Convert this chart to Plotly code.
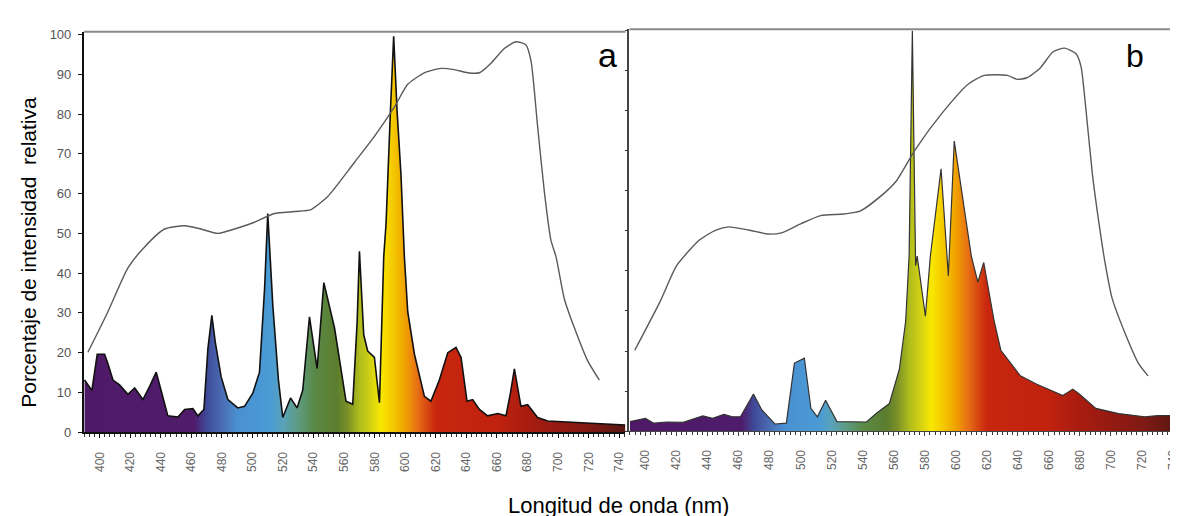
import plotly.graph_objects as go

# ---------------- Data ----------------
# Panel a: lamp emission spectrum
wl_a = [390.1, 394.9, 398.4, 403.2, 405.4, 408.7, 413.0, 418.5, 422.9, 428.3, 432.7, 437.0,
        440.7, 444.6, 451.2, 455.6, 461.0, 464.3, 468.2, 470.8, 473.4, 475.6, 479.5, 483.9,
        490.4, 494.8, 500.2, 504.6, 507.9, 510.0, 513.3, 517.0, 519.8, 524.9, 529.2, 532.9,
        537.3, 542.3, 546.7, 553.7, 561.2, 565.6, 568.5, 570.0, 572.8, 575.4, 579.8, 583.1,
        585.9, 587.4, 590.3, 592.4, 594.6, 597.2, 599.4, 601.6, 606.0, 612.5, 616.8, 622.3,
        627.8, 633.2, 636.5, 640.4, 644.1, 648.5, 653.9, 660.5, 665.9, 668.8, 671.4, 675.7,
        680.1, 686.6, 693.2, 710.6, 732.4, 744.0]
em_a = [13.1, 10.5, 19.6, 19.6, 17.2, 13.1, 11.9, 9.5, 11.1, 8.2, 11.5, 15.1,
        9.8, 4.1, 3.8, 5.7, 5.9, 4.1, 5.7, 20.9, 29.4, 22.8, 13.9, 8.2,
        6.1, 6.5, 9.8, 15.1, 36.0, 55.0, 31.9, 13.1, 3.7, 8.6, 6.1, 10.6,
        29.0, 16.0, 37.6, 26.2, 7.8, 7.0, 27.8, 45.5, 24.5, 20.4, 18.8, 7.4,
        44.2, 52.3, 81.0, 99.6, 81.0, 64.6, 44.2, 30.3, 19.6, 9.0, 7.8, 13.1,
        20.0, 21.3, 18.8, 7.8, 8.2, 5.7, 4.1, 4.7, 4.1, 9.8, 15.9, 6.5,
        6.9, 3.7, 2.8, 2.4, 2.0, 1.8]

# Panel a: absorption curve
wl_abs_a = [392.3, 405.4, 418.5, 429.4, 442.5, 455.6, 466.2, 477.3, 488.3, 501.3, 514.4,
            527.5, 538.4, 549.3, 553.7, 566.8, 579.8, 592.9, 601.6, 612.5, 623.4, 632.1,
            640.8, 648.5, 656.1, 664.8, 672.4, 679.0, 682.3, 686.6, 691.0, 695.3, 698.6,
            704.1, 710.6, 719.3, 727.0]
abs_a = [20.1, 30.3, 41.3, 46.6, 51.1, 51.9, 51.1, 50.0, 51.1, 52.8, 55.0,
         55.5, 56.0, 59.3, 61.3, 67.9, 74.4, 81.8, 87.5, 90.4, 91.5, 91.2,
         90.4, 90.4, 92.8, 96.5, 98.2, 97.4, 93.3, 76.9, 60.5, 48.3, 44.2,
         33.5, 26.3, 18.0, 13.1]

# Panel b: lamp emission spectrum
wl_b = [390.0, 400.0, 405.3, 413.8, 424.3, 432.7, 437.0, 443.3, 450.6, 456.0, 461.2, 469.6,
        475.0, 483.4, 490.8, 496.0, 502.4, 506.6, 510.8, 516.1, 523.4, 542.4, 548.7, 557.2,
        563.6, 567.7, 569.9, 572.0, 574.1, 575.1, 580.4, 583.6, 590.5, 595.2, 599.0, 610.0,
        614.2, 618.0, 624.7, 629.0, 641.6, 652.2, 669.0, 675.4, 679.6, 690.2, 704.9, 721.8,
        730.2, 747.0]
em_b = [2.4, 3.2, 2.0, 2.3, 2.2, 3.2, 3.8, 3.2, 4.2, 3.6, 3.6, 9.3,
        5.3, 1.8, 2.0, 17.0, 18.2, 5.7, 3.6, 7.7, 2.4, 2.3, 4.4, 6.9,
        15.4, 27.5, 43.7, 99.9, 41.3, 43.7, 28.7, 43.7, 65.5, 38.8, 72.4, 43.7,
        37.2, 42.1, 27.5, 20.2, 13.8, 11.7, 8.9, 10.5, 9.3, 5.7, 4.4, 3.6,
        3.9, 3.9]

# Panel b: absorption curve
wl_abs_b = [393.1, 409.5, 420.1, 434.8, 445.4, 453.8, 466.5, 479.1, 487.6, 500.3,
            512.9, 527.7, 538.2, 553.0, 561.4, 574.1, 591.0, 607.9, 618.4, 633.2, 639.5,
            645.8, 654.3, 662.7, 670.1, 677.5, 680.7, 683.9, 688.1, 692.3, 696.5, 700.7,
            709.2, 717.6, 723.9]
abs_b = [20.2, 32.4, 41.3, 47.7, 50.2, 51.0, 50.2, 49.2, 49.5, 51.8,
         53.8, 54.2, 54.9, 59.1, 62.3, 70.4, 79.3, 86.6, 88.8, 88.8, 87.8,
         88.2, 90.6, 94.7, 95.6, 94.2, 91.0, 80.1, 63.9, 51.8, 41.3, 33.2,
         24.3, 17.0, 13.8]

x_ticks = list(range(400, 741, 20))
y_ticks = list(range(0, 101, 10))

# ---------------- Style: wavelength -> colour gradient ----------------
GRAD_START, GRAD_STOP = 389.0, 747.0
stops_nm = [389, 462, 470, 480, 490, 512, 520, 530, 540, 555, 562, 570, 578, 584,
            592, 600, 607, 614, 620, 660, 680, 700, 720, 747]
stops_col = ["#4e1a68", "#4f1c6c", "#3f4a98", "#4a6cb4", "#4a90d0", "#4a9bd6",
             "#5aa2b8", "#5e9a80", "#5a8a48", "#5b7d2e", "#7a9028", "#b0bd1c",
             "#d8d412", "#f8e800", "#f4c800", "#f0a000", "#e87414", "#d84812",
             "#c8260e", "#c0220e", "#a81c10", "#941a12", "#801a14", "#521510"]
colorscale = [[(n - GRAD_START) / (GRAD_STOP - GRAD_START), c]
              for n, c in zip(stops_nm, stops_col)]

FONT = "Liberation Sans, Arial, sans-serif"

fig = go.Figure()

# Panel a
fig.add_trace(go.Scatter(x=wl_a, y=em_a, mode="lines", fill="tozeroy",
                         fillgradient=dict(type="horizontal", colorscale=colorscale,
                                           start=GRAD_START, stop=GRAD_STOP),
                         line=dict(color="#111111", width=1.6),
                         xaxis="x", yaxis="y", showlegend=False, hoverinfo="skip"))
fig.add_trace(go.Scatter(x=wl_abs_a, y=abs_a, mode="lines",
                         line=dict(color="#5a5a5a", width=1.4, shape="spline", smoothing=0.6),
                         xaxis="x", yaxis="y", showlegend=False, hoverinfo="skip"))
# Panel b
fig.add_trace(go.Scatter(x=wl_b, y=em_b, mode="lines", fill="tozeroy",
                         fillgradient=dict(type="horizontal", colorscale=colorscale,
                                           start=GRAD_START, stop=GRAD_STOP),
                         line=dict(color="#333333", width=1.2),
                         xaxis="x2", yaxis="y2", showlegend=False, hoverinfo="skip"))
fig.add_trace(go.Scatter(x=wl_abs_b, y=abs_b, mode="lines",
                         line=dict(color="#5a5a5a", width=1.4, shape="spline", smoothing=0.6),
                         xaxis="x2", yaxis="y2", showlegend=False, hoverinfo="skip"))

W, H = 1178, 516
xa_common = dict(tickmode="array", tickvals=x_ticks, ticktext=[str(v) for v in x_ticks],
                 tickangle=-90, ticks="outside", ticklen=4, showgrid=False, zeroline=False,
                 showline=True, tickfont=dict(family=FONT, size=12, color="#666666"),
                 ticklabelstandoff=9, ticklabeloverflow="allow",
                 minor=dict(tick0=400, dtick=20 / 6, ticks="outside", ticklen=3,
                            tickcolor="#333333", showgrid=False))

fig.update_layout(
    width=W, height=H, autosize=False,
    margin=dict(l=0, r=0, t=0, b=0),
    paper_bgcolor="white", plot_bgcolor="white",
    xaxis=dict(domain=[76 / W, 618 / W], range=[389.7, 744.1], anchor="y",
               linecolor="#111111", linewidth=2, tickcolor="#111111", **xa_common),
    yaxis=dict(domain=[(H - 430) / H, (H - 19.3) / H], range=[0, 100.7], anchor="x",
               tickmode="array", tickvals=y_ticks, ticks="outside", ticklen=4,
               tickcolor="#111111", showline=True, linecolor="#111111", linewidth=2,
               showgrid=False, zeroline=False, ticklabelstandoff=4,
               tickfont=dict(family=FONT, size=13, color="#555555")),
    xaxis2=dict(domain=[622 / W, 1.0], range=[389.7, 747.7], anchor="y2",
                linecolor="#444444", linewidth=1, tickcolor="#444444", **xa_common),
    yaxis2=dict(domain=[(H - 429) / H, (H - 16.7) / H], range=[0, 100.3], anchor="x2",
                tickmode="array", tickvals=y_ticks, ticks="outside", ticklen=3,
                tickcolor="#333333", showticklabels=False, showline=True,
                linecolor="#444444", linewidth=1.5, showgrid=False, zeroline=False),
    shapes=[
        dict(type="line", xref="x domain", yref="y domain", x0=0, x1=1, y0=1, y1=1,
             line=dict(color="#8a8a8a", width=2)),
        dict(type="line", xref="x2 domain", yref="y2 domain", x0=0, x1=1, y0=1, y1=1,
             line=dict(color="#8a8a8a", width=2)),
    ],
    annotations=[
        dict(text="Porcentaje de intensidad\u00a0 relativa", xref="paper", yref="paper",
             x=21 / W, y=(H - 245) / H, xanchor="center", yanchor="middle", textangle=-90,
             showarrow=False, font=dict(family=FONT, size=21, color="#000000")),
        dict(text="Longitud de onda (nm)", xref="paper", yref="paper",
             x=611 / W, y=(H - 505) / H, xanchor="center", yanchor="middle",
             showarrow=False, font=dict(family=FONT, size=22, color="#000000")),
        dict(text="a", xref="paper", yref="paper", x=600 / W, y=(H - 43) / H,
             xanchor="center", yanchor="middle", showarrow=False,
             font=dict(family=FONT, size=34, color="#000000")),
        dict(text="b", xref="paper", yref="paper", x=1128 / W, y=(H - 44) / H,
             xanchor="center", yanchor="middle", showarrow=False,
             font=dict(family=FONT, size=32, color="#000000")),
    ],
)

fig.write_html("out.html")
